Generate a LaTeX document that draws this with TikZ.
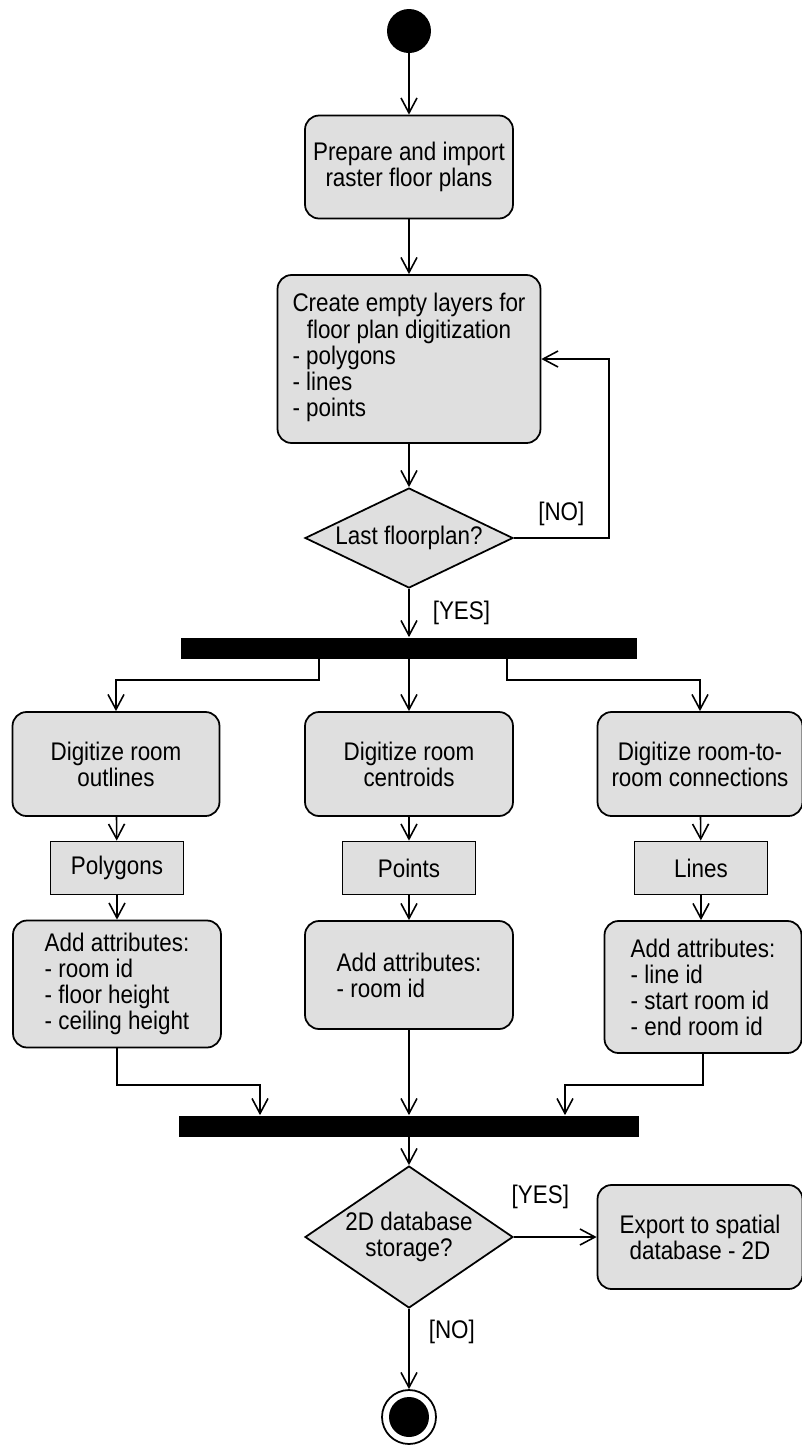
\documentclass[tikz,border=0pt]{standalone}
\usepackage{fontspec}
\setmainfont{Liberation Sans}[FakeStretch=0.88]
\usepackage{tikz}
\usetikzlibrary{arrows.meta,shapes.geometric,positioning,calc}

\tikzset{
  act/.style={draw, line width=1pt, fill=gray!25, rounded corners=0.28cm, align=center, inner sep=0pt},
  objbox/.style={draw, line width=1pt, fill=gray!25, inner sep=0pt, minimum width=2.66cm, minimum height=1.06cm},
  decide/.style={draw, line width=1pt, fill=gray!25, diamond, align=center, inner sep=0pt, minimum width=4.16cm},
  bar/.style={fill=black, inner sep=0pt, minimum height=0.42cm},
  flow/.style={line width=0.9pt, -{Straight Barb[length=0.3cm,width=0.32cm]}},
  guard/.style={inner sep=0pt},
}

\begin{document}
\begin{tikzpicture}[x=0.02cm, y=-0.02cm, font=\fontsize{14.5}{14.8}\selectfont]
  \useasboundingbox (0,0) rectangle (802,1445);

  \node[circle, fill=black, minimum size=0.88cm, inner sep=0pt] (start) at (409,31) {};
  \node[act, minimum width=4.16cm, minimum height=2.06cm] (prep) at (409,167) {Prepare and import\\raster floor plans};
  \node[act, minimum width=5.26cm, minimum height=3.36cm] (layers) at (409,359)
    {\begin{tabular}{@{}l@{}}\multicolumn{1}{@{}c@{}}{Create empty layers for}\\
     \multicolumn{1}{@{}c@{}}{floor plan digitization}\\ - polygons\\ - lines\\ - points\end{tabular}};
  \node[decide, minimum height=2cm, aspect=2] (last) at (409,538) {Last floorplan?};
  \node[bar, minimum width=9.14cm] (fork) at (409,648) {};

  \node[act, minimum width=4.14cm, minimum height=2.08cm] (outl) at (116,764) {Digitize room\\outlines};
  \node[act, minimum width=4.16cm, minimum height=2.08cm] (cent) at (409,764) {Digitize room\\centroids};
  \node[act, minimum width=4.1cm, minimum height=2.08cm] (conn) at (700,764) {Digitize room-to-\\room connections};

  \node[objbox] (poly) at (117,868) {Polygons};
  \node[objbox] (pts) at (409,868) {Points};
  \node[objbox] (lns) at (701,868) {Lines};

  \node[act, align=left, minimum width=4.16cm, minimum height=2.54cm] (attrL) at (117,984)
    {Add attributes:\\- room id\\- floor height\\- ceiling height};
  \node[act, align=left, minimum width=4.16cm, minimum height=2.16cm] (attrM) at (409,975)
    {Add attributes:\\- room id};
  \node[act, align=left, minimum width=3.94cm, minimum height=2.64cm] (attrR) at (703,987)
    {Add attributes:\\- line id\\- start room id\\- end room id};

  \node[bar, minimum width=9.2cm] (join) at (409,1126) {};
  \node[decide, minimum height=2.84cm, aspect=1.46] (store) at (409,1237) {2D database\\storage?};
  \node[act, minimum width=4.1cm, minimum height=2.08cm] (export) at (700,1237) {Export to spatial\\database - 2D};
  \node[circle, draw, fill=white, line width=1pt, minimum size=1.08cm, inner sep=0pt] (stop) at (409,1417) {};
  \fill (stop.center) circle (0.4cm);

  \coordinate (jl) at (260,1085);
  \coordinate (jr) at (565,1085);

  \draw[flow] (start) -- (prep);
  \draw[flow] (prep) -- (layers);
  \draw[flow] (layers) -- (last);
  \draw[flow] (last) -- node[guard, right=0.46cm] {[YES]} (fork);
  \draw[flow] (last.east) -- node[guard, above=0.22cm] {[NO]} ++(95,0) |- (layers.east);

  \draw[flow] ([xshift=-1.8cm]fork.south) -- ++(0,21) -| (outl);
  \draw[flow] (fork.south) -- (cent);
  \draw[flow] ([xshift=1.96cm]fork.south) -- ++(0,21) -| (conn);

  \draw[flow] (outl) -- (poly);
  \draw[flow] (cent) -- (pts);
  \draw[flow] (conn) -- (lns);
  \draw[flow] (poly) -- (attrL);
  \draw[flow] (pts) -- (attrM);
  \draw[flow] (lns) -- (lns |- attrR.north);

  \draw[flow] (attrL) |- (jl) -- (jl |- join.north);
  \draw[flow] (attrM) -- (join);
  \draw[flow] (attrR) |- (jr) -- (jr |- join.north);

  \draw[flow] (join) -- (store);
  \draw[flow] (store) -- node[guard, pos=0.32, above=0.54cm] {[YES]} (export);
  \draw[flow] (store) -- node[guard, pos=0.29, right=0.38cm] {[NO]} (stop);
\end{tikzpicture}
\end{document}
